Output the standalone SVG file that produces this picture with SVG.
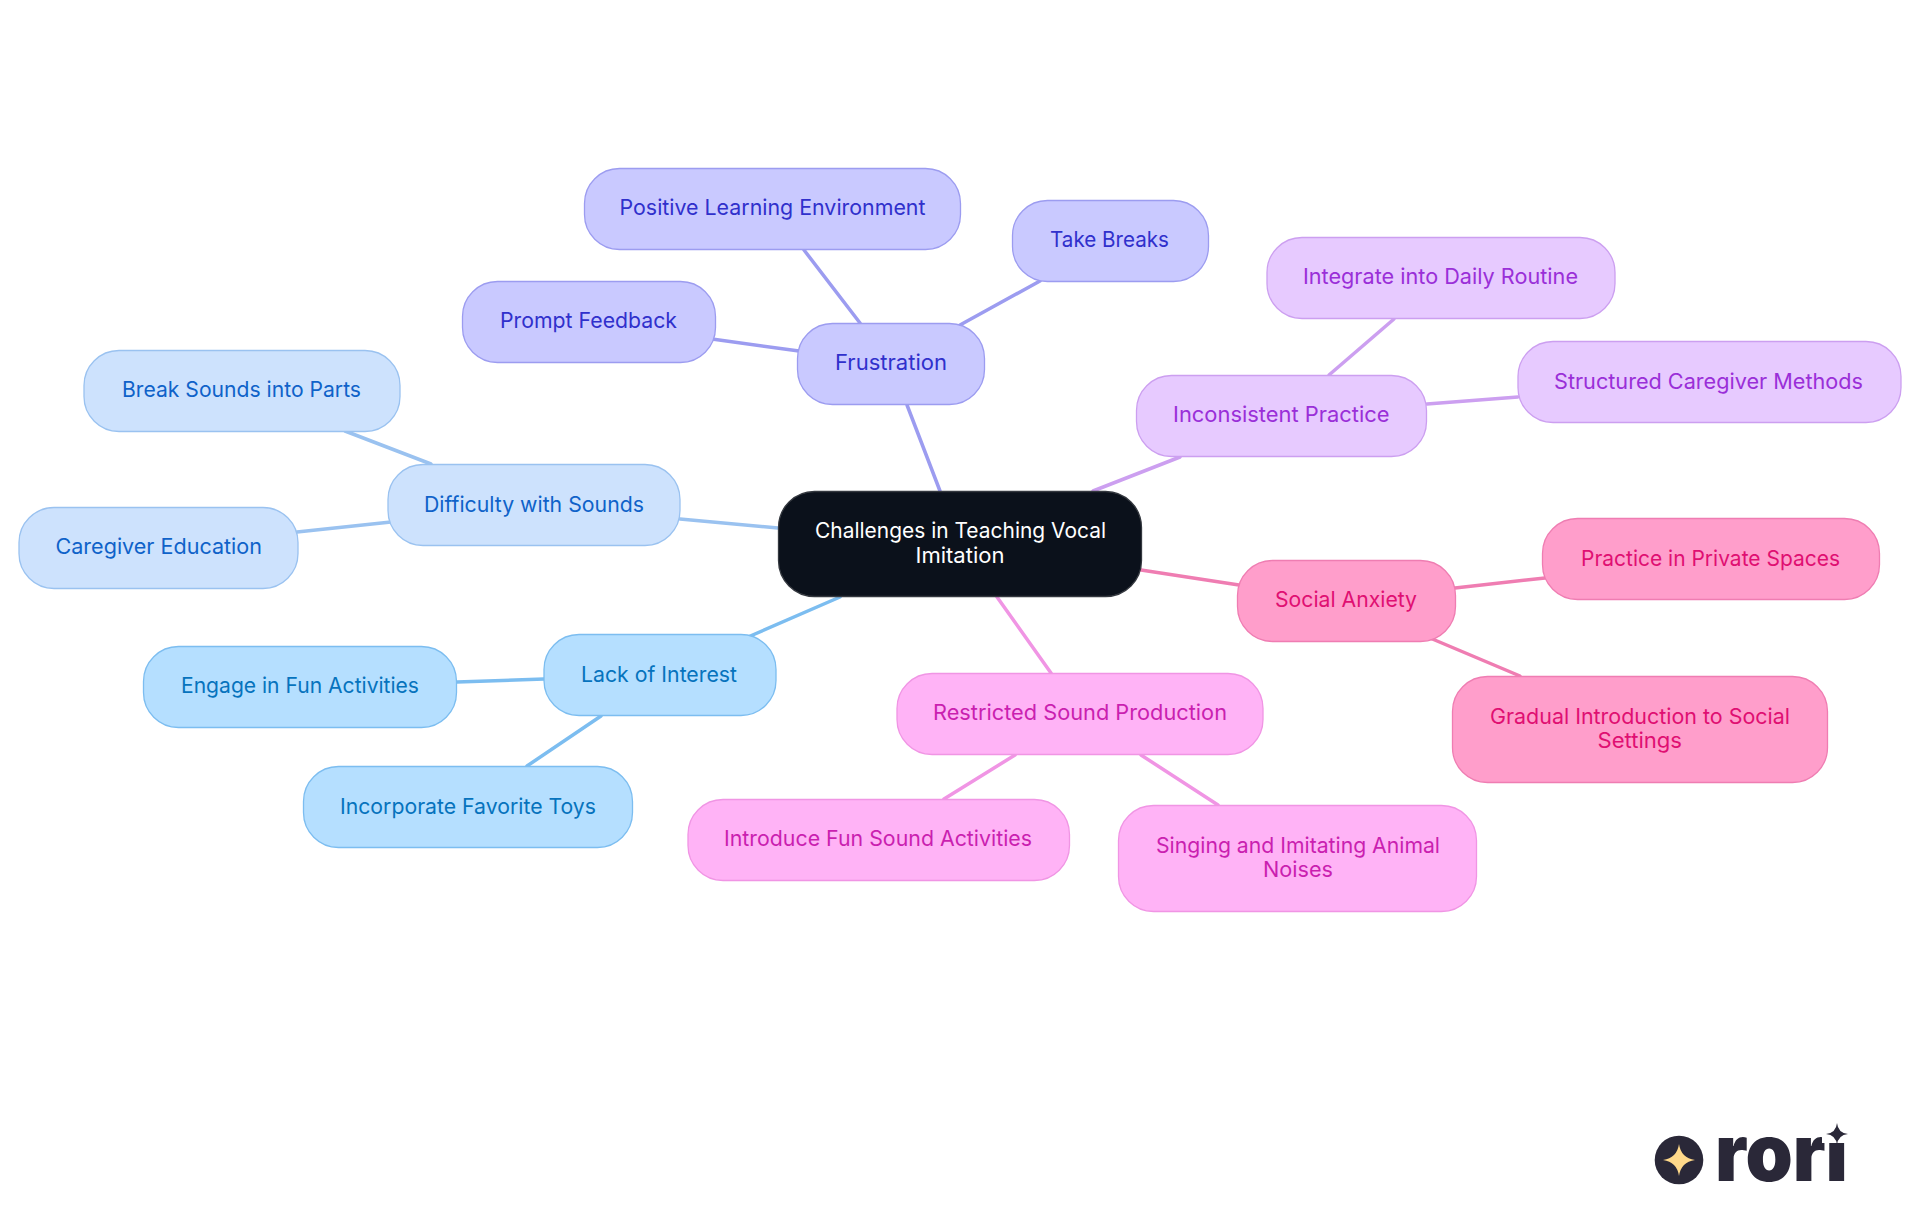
<svg xmlns="http://www.w3.org/2000/svg" width="1920" height="1215" viewBox="0 0 1920 1215">
<style>
text{font-family:"Inter","Noto Sans","Liberation Sans",sans-serif;font-size:21.5px}
rect{stroke-width:1.3}
line{stroke-width:3.5;stroke-linecap:round;fill:none}
.r rect{fill:#0b111b;stroke:#34383f}.r text{fill:#fff}
.f rect{fill:#c9c9ff;stroke:#9c9cf0}.f text{fill:#3030cc}
.d rect{fill:#cde2fd;stroke:#9ac2f0}.d text{fill:#0f62c9}
.l rect{fill:#b5dfff;stroke:#7cbdf0}.l text{fill:#0673bd}
.i rect{fill:#e7caff;stroke:#cc9ff0}.i text{fill:#9a2fd8}
.s rect{fill:#ff9ecb;stroke:#ef7db2}.s text{fill:#e00f72}
.p rect{fill:#ffb3f6;stroke:#f095e4}.p text{fill:#ca1fb0}
.lf{stroke:#9c9cf0}.ld{stroke:#9ac2f0}.ll{stroke:#7cbdf0}.li{stroke:#cc9ff0}.ls{stroke:#ef7db2}.lp{stroke:#f095e4}
.logo{fill:#2a2838}
</style>
<g id="connectors">
<line class="lf" x1="907" y1="405" x2="940" y2="491"/>
<line class="lf" x1="804" y1="250" x2="860" y2="323"/>
<line class="lf" x1="1040" y1="281" x2="960" y2="325"/>
<line class="lf" x1="712" y1="339" x2="799" y2="351"/>
<line class="ld" x1="680" y1="519" x2="778" y2="528"/>
<line class="ld" x1="345" y1="431" x2="431" y2="464"/>
<line class="ld" x1="297" y1="532" x2="391" y2="522"/>
<line class="ll" x1="748" y1="637" x2="840" y2="597"/>
<line class="ll" x1="457" y1="682" x2="544" y2="679"/>
<line class="ll" x1="601" y1="716" x2="527" y2="766"/>
<line class="li" x1="1180" y1="457" x2="1093" y2="491"/>
<line class="li" x1="1394" y1="319" x2="1329" y2="375"/>
<line class="li" x1="1427" y1="404" x2="1518" y2="397"/>
<line class="ls" x1="1141" y1="570" x2="1239" y2="585"/>
<line class="ls" x1="1455" y1="588" x2="1545" y2="578"/>
<line class="ls" x1="1430" y1="638" x2="1520" y2="676"/>
<line class="lp" x1="997" y1="597" x2="1051" y2="673"/>
<line class="lp" x1="1015" y1="755" x2="944" y2="799"/>
<line class="lp" x1="1141" y1="755" x2="1218" y2="805"/>
</g>
<g id="root" class="r"><rect x="778.5" y="491.5" width="363" height="105" rx="36"/><text x="815" y="537.5" textLength="291" lengthAdjust="spacingAndGlyphs">Challenges in Teaching Vocal</text><text x="915.5" y="562.5" textLength="89" lengthAdjust="spacingAndGlyphs">Imitation</text></g>
<g id="frustration" class="f"><rect x="797.5" y="323.5" width="187" height="81" rx="35"/><text x="835" y="369.5" textLength="112" lengthAdjust="spacingAndGlyphs">Frustration</text></g>
<g id="positive-learning" class="f"><rect x="584.5" y="168.5" width="376" height="81" rx="35"/><text x="619.5" y="215" textLength="306" lengthAdjust="spacingAndGlyphs">Positive Learning Environment</text></g>
<g id="take-breaks" class="f"><rect x="1012.5" y="200.5" width="196" height="81" rx="35"/><text x="1050" y="247" textLength="119" lengthAdjust="spacingAndGlyphs">Take Breaks</text></g>
<g id="prompt-feedback" class="f"><rect x="462.5" y="281.5" width="253" height="81" rx="35"/><text x="500" y="328" textLength="177" lengthAdjust="spacingAndGlyphs">Prompt Feedback</text></g>
<g id="difficulty" class="d"><rect x="388" y="464.5" width="292" height="81" rx="35"/><text x="424" y="512" textLength="220" lengthAdjust="spacingAndGlyphs">Difficulty with Sounds</text></g>
<g id="break-sounds" class="d"><rect x="84" y="350.5" width="316" height="81" rx="35"/><text x="122" y="397" textLength="239" lengthAdjust="spacingAndGlyphs">Break Sounds into Parts</text></g>
<g id="caregiver-education" class="d"><rect x="19" y="507.5" width="279" height="81" rx="35"/><text x="55.5" y="554" textLength="206.5" lengthAdjust="spacingAndGlyphs">Caregiver Education</text></g>
<g id="lack-of-interest" class="l"><rect x="544" y="634.5" width="232" height="81" rx="35"/><text x="581" y="682" textLength="156" lengthAdjust="spacingAndGlyphs">Lack of Interest</text></g>
<g id="engage" class="l"><rect x="143.5" y="646.5" width="313" height="81" rx="35"/><text x="181" y="693" textLength="238" lengthAdjust="spacingAndGlyphs">Engage in Fun Activities</text></g>
<g id="incorporate" class="l"><rect x="303.5" y="766.5" width="329" height="81" rx="35"/><text x="340" y="814" textLength="256" lengthAdjust="spacingAndGlyphs">Incorporate Favorite Toys</text></g>
<g id="inconsistent" class="i"><rect x="1136.5" y="375.5" width="290" height="81" rx="35"/><text x="1173" y="422" textLength="216.5" lengthAdjust="spacingAndGlyphs">Inconsistent Practice</text></g>
<g id="integrate" class="i"><rect x="1267" y="237.5" width="348" height="81" rx="35"/><text x="1303" y="284" textLength="275" lengthAdjust="spacingAndGlyphs">Integrate into Daily Routine</text></g>
<g id="structured" class="i"><rect x="1518" y="341.5" width="383" height="81" rx="35"/><text x="1554" y="389" textLength="309" lengthAdjust="spacingAndGlyphs">Structured Caregiver Methods</text></g>
<g id="social-anxiety" class="s"><rect x="1237.5" y="560.5" width="218" height="81" rx="35"/><text x="1275" y="607" textLength="142" lengthAdjust="spacingAndGlyphs">Social Anxiety</text></g>
<g id="private-spaces" class="s"><rect x="1542.5" y="518.5" width="337" height="81" rx="35"/><text x="1581" y="566" textLength="259" lengthAdjust="spacingAndGlyphs">Practice in Private Spaces</text></g>
<g id="gradual" class="s"><rect x="1452.5" y="676.5" width="375" height="106" rx="35"/><text x="1490" y="724" textLength="300" lengthAdjust="spacingAndGlyphs">Gradual Introduction to Social</text><text x="1597.5" y="748" textLength="84.5" lengthAdjust="spacingAndGlyphs">Settings</text></g>
<g id="restricted" class="p"><rect x="897" y="673.5" width="366" height="81" rx="35"/><text x="933" y="720" textLength="294" lengthAdjust="spacingAndGlyphs">Restricted Sound Production</text></g>
<g id="introduce" class="p"><rect x="688" y="799.5" width="381.5" height="81" rx="35"/><text x="724" y="846" textLength="308" lengthAdjust="spacingAndGlyphs">Introduce Fun Sound Activities</text></g>
<g id="singing" class="p"><rect x="1118.5" y="805.5" width="358" height="106" rx="35"/><text x="1156" y="853" textLength="284" lengthAdjust="spacingAndGlyphs">Singing and Imitating Animal</text><text x="1263" y="877" textLength="70" lengthAdjust="spacingAndGlyphs">Noises</text></g>
<g id="logo">
<circle class="logo" cx="1679" cy="1160" r="24.3"/>
<path d="M1679 1144Q1681 1158 1695 1160Q1681 1162 1679 1176Q1677 1162 1663 1160Q1677 1158 1679 1144Z" fill="#ffd98a"/>
<text x="1715" y="1181" textLength="133" lengthAdjust="spacingAndGlyphs" style="font-size:79px;font-weight:900;fill:#2a2838">rori</text>
<rect x="1822" y="1112" width="30" height="31" fill="#fff" stroke="none"/>
<path d="M1837 1123Q1838 1133 1848 1134Q1838 1135 1837 1145Q1836 1135 1826 1134Q1836 1133 1837 1123Z" class="logo"/>
</g>
</svg>
